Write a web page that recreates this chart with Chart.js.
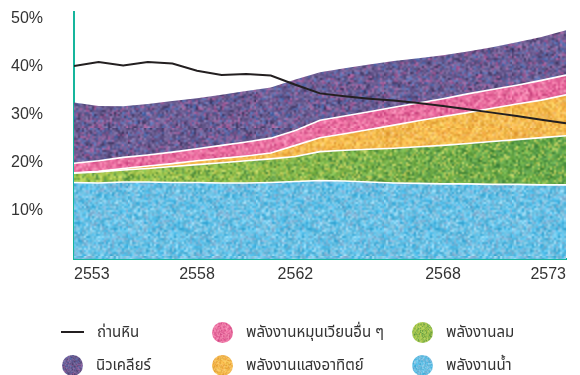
<!DOCTYPE html>
<html lang="th">
<head>
<meta charset="utf-8">
<script src="https://cdn.jsdelivr.net/npm/chart.js@4.4.1/dist/chart.umd.min.js"></script>
<style>
  html, body { margin: 0; padding: 0; background: #fff; }
  #wrap { position: relative; width: 580px; height: 375px; overflow: hidden; }
  #chart { position: absolute; left: 0; top: 0; }
  .legend { position: absolute; left: 0; top: 0; width: 580px; height: 375px;
            font-family: "Noto Sans Thai", "Noto Sans", "DejaVu Sans", sans-serif;
            font-size: 15px; color: #333; pointer-events: none; }
  .item { position: absolute; height: 22px; display: flex; align-items: center; white-space: nowrap; }
  .dot { width: 21px; height: 21px; border-radius: 50%; margin-right: 13px; background-size: 64px 64px; }
  .dash { width: 23px; height: 2px; background: #231f20; margin: 0 13px 0 -1px; }
</style>
</head>
<body>
<div id="wrap">
  <canvas id="chart" width="580" height="375"></canvas>
  <div class="legend" id="legend"></div>
</div>
<script>
// Electricity generation share by source, B.E. 2553 - 2573 (percent)
const years = [2553, 2554, 2555, 2556, 2557, 2558, 2559, 2560, 2561, 2562, 2563,
               2564, 2565, 2566, 2567, 2568, 2569, 2570, 2571, 2572, 2573];
const tickYears = [2553, 2558, 2562, 2568, 2573];
const yTicks = [10, 20, 30, 40, 50];

const hydro      = [15.9, 15.8, 16.0, 16.0, 15.9, 15.9, 15.8, 15.8, 15.9, 16.1, 16.3,
                    16.2, 16.0, 15.8, 15.7, 15.6, 15.6, 15.5, 15.5, 15.4, 15.4];
const wind       = [1.9, 2.3, 2.5, 2.8, 3.3, 3.7, 4.2, 4.6, 4.9, 5.2, 6.0,
                    6.4, 6.8, 7.2, 7.6, 8.0, 8.4, 8.9, 9.3, 9.8, 10.2];
const solar      = [0.1, 0.1, 0.3, 0.5, 0.6, 0.8, 0.9, 1.0, 1.2, 2.3, 2.9,
                    3.4, 4.1, 4.8, 5.4, 6.0, 6.4, 6.9, 7.4, 7.8, 8.5];
const otherRenew = [2.0, 2.2, 2.3, 2.3, 2.4, 2.5, 2.7, 2.9, 3.1, 3.1, 3.6,
                    3.7, 3.7, 3.7, 3.7, 3.7, 3.9, 3.9, 3.9, 4.1, 4.1];
const nuclear    = [12.6, 11.4, 10.6, 10.6, 10.6, 10.5, 10.5, 10.6, 10.5, 10.6, 10.0,
                    9.9, 9.8, 9.6, 9.3, 9.0, 8.8, 8.8, 8.9, 9.0, 9.3];
const coal       = [40.1, 40.9, 40.2, 40.9, 40.6, 39.1, 38.2, 38.4, 38.1, 36.2, 34.4,
                    33.8, 33.3, 32.9, 32.4, 31.8, 31.1, 30.4, 29.7, 28.9, 28.2];

const names = {
  coal: "ถ่านหิน",
  nuclear: "นิวเคลียร์",
  other: "พลังงานหมุนเวียนอื่น ๆ",
  solar: "พลังงานแสงอาทิตย์",
  wind: "พลังงานลม",
  hydro: "พลังงานน้ำ"
};

const TEAL = "#16b59c";
const TEXT = "#333333";

// small deterministic generator so the crayon grain is identical on every load
function seeded(seed) {
  return function () {
    seed = (seed + 0x6D2B79F5) | 0;
    let t = Math.imul(seed ^ (seed >>> 15), 1 | seed);
    t = (t + Math.imul(t ^ (t >>> 7), 61 | t)) ^ t;
    return ((t ^ (t >>> 14)) >>> 0) / 4294967296;
  };
}

// builds a grainy tile; colorAt(x) gives the base colour across the tile
function grainTile(w, h, colorAt, specks, seed) {
  const sw = Math.ceil(w / 2), sh = Math.ceil(h / 2);
  const small = document.createElement("canvas");
  small.width = sw; small.height = sh;
  const sg = small.getContext("2d");
  const img = sg.createImageData(sw, sh);
  const rnd = seeded(seed);
  for (let y = 0; y < sh; y++) {
    for (let x = 0; x < sw; x++) {
      let [r, g, b] = colorAt(x * 2);
      if (rnd() < 0.6) {
        const s = specks[Math.floor(rnd() * specks.length)];
        const k = 0.45 + rnd() * 0.45;
        r += (s[0] - r) * k; g += (s[1] - g) * k; b += (s[2] - b) * k;
      }
      const n = (rnd() - 0.5) * 40;
      const i = (y * sw + x) * 4;
      img.data[i] = Math.max(0, Math.min(255, r + n));
      img.data[i + 1] = Math.max(0, Math.min(255, g + n));
      img.data[i + 2] = Math.max(0, Math.min(255, b + n));
      img.data[i + 3] = 255;
    }
  }
  sg.putImageData(img, 0, 0);
  const tile = document.createElement("canvas");
  tile.width = w; tile.height = h;
  const tg = tile.getContext("2d");
  tg.imageSmoothingEnabled = true;
  tg.drawImage(small, 0, 0, w, h);
  return tile;
}

const flat = c => () => c;
function ramp(a, b, x0, x1) {
  return x => {
    const t = Math.max(0, Math.min(1, (x - x0) / (x1 - x0)));
    return [a[0] + (b[0] - a[0]) * t, a[1] + (b[1] - a[1]) * t, a[2] + (b[2] - a[2]) * t];
  };
}

const tiles = {
  nuclear: grainTile(128, 128, flat([106, 92, 146]),
    [[76, 114, 186], [178, 92, 156], [64, 56, 98], [140, 122, 174]], 11),
  other: grainTile(128, 128, flat([232, 104, 156]),
    [[248, 156, 190], [210, 72, 134], [240, 132, 172]], 23),
  solar: grainTile(128, 128, flat([244, 184, 72]),
    [[252, 210, 100], [234, 154, 56], [246, 198, 124]], 37),
  wind: grainTile(580, 128, ramp([174, 204, 80], [90, 160, 72], 74, 566),
    [[126, 190, 78], [66, 134, 66], [208, 214, 98]], 41),
  hydro: grainTile(128, 128, flat([100, 192, 228]),
    [[166, 218, 240], [54, 174, 224], [142, 178, 214]], 53)
};

const ctx = document.getElementById("chart").getContext("2d");
const pat = key => ctx.createPattern(tiles[key], "repeat");
const toPoints = vals => years.map((yr, i) => ({ x: yr, y: vals[i] }));

function area(key, values, fill, border) {
  return {
    label: names[key],
    data: toPoints(values),
    stack: "mix",
    fill: fill,
    backgroundColor: pat(key),
    borderColor: "#ffffff",
    borderWidth: border,
    pointRadius: 0,
    tension: 0
  };
}

const tickFont = { family: "'Liberation Sans', Arial, sans-serif", size: 16 };

new Chart(ctx, {
  type: "line",
  data: {
    datasets: [
      {
        label: names.coal,
        data: toPoints(coal),
        stack: "coal",
        fill: false,
        borderColor: "#231f20",
        borderWidth: 2,
        pointRadius: 0,
        tension: 0
      },
      area("hydro", hydro, "origin", 1.6),
      area("wind", wind, "-1", 1.6),
      area("solar", solar, "-1", 1.6),
      area("other", otherRenew, "-1", 1.6),
      area("nuclear", nuclear, "-1", 0)
    ]
  },
  options: {
    responsive: false,
    animation: false,
    layout: { padding: { top: 12, right: 14, left: 11, bottom: 0 } },
    plugins: {
      legend: { display: false },
      tooltip: { enabled: false }
    },
    scales: {
      x: {
        type: "linear",
        min: 2553,
        max: 2573,
        grid: { display: false, drawTicks: false },
        border: { color: TEAL, width: 2 },
        afterBuildTicks: s => { s.ticks = tickYears.map(v => ({ value: v })); },
        afterFit: s => { s.height = 116; },
        ticks: {
          color: TEXT,
          font: tickFont,
          padding: 6,
          align: "inner",
          maxRotation: 0,
          autoSkip: false,
          callback: v => String(v)
        }
      },
      y: {
        stacked: true,
        min: 0,
        max: 51.3,
        grid: { display: false, drawTicks: false },
        border: { color: TEAL, width: 2 },
        afterBuildTicks: s => { s.ticks = yTicks.map(v => ({ value: v })); },
        afterFit: s => { s.width = 63; },
        ticks: {
          color: TEXT,
          font: tickFont,
          padding: 0,
          crossAlign: "far",
          callback: v => v + "%"
        }
      }
    }
  }
});

// legend: three columns, two rows
const legendItems = [
  { key: "coal", col: 0, row: 0 },
  { key: "other", col: 1, row: 0 },
  { key: "wind", col: 2, row: 0 },
  { key: "nuclear", col: 0, row: 1 },
  { key: "solar", col: 1, row: 1 },
  { key: "hydro", col: 2, row: 1 }
];
const colX = [62, 212, 412];
const rowY = [321, 354];
const legend = document.getElementById("legend");
legendItems.forEach(it => {
  const el = document.createElement("div");
  el.className = "item";
  el.style.left = colX[it.col] + "px";
  el.style.top = rowY[it.row] + "px";
  const mark = document.createElement("div");
  if (it.key === "coal") {
    mark.className = "dash";
  } else {
    mark.className = "dot";
    mark.style.backgroundImage = "url(" + tiles[it.key].toDataURL() + ")";
  }
  const label = document.createElement("span");
  label.textContent = names[it.key];
  el.appendChild(mark);
  el.appendChild(label);
  legend.appendChild(el);
});
</script>
</body>
</html>
